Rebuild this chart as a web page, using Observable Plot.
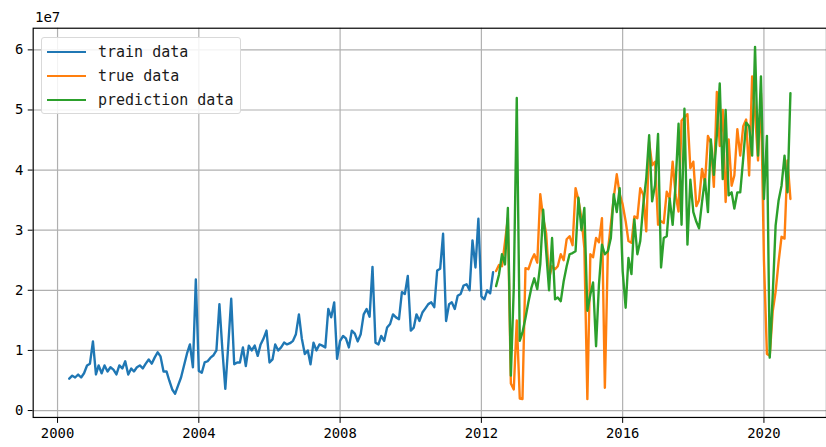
<!DOCTYPE html>
<html>
<head>
<meta charset="utf-8">
<script src="https://cdn.jsdelivr.net/npm/d3@7"></script>
<script src="https://cdn.jsdelivr.net/npm/@observablehq/plot@0.6"></script>
<style>
  html, body { margin: 0; padding: 0; background: #fff; overflow: hidden; }
  #wrap { position: relative; width: 826px; height: 447px; overflow: hidden; font-family: "DejaVu Sans Mono", monospace; color: #000; }
  #wrap svg { position: absolute; left: 0; top: 0; }
  #exp { position: absolute; left: 35px; top: 9px; font-size: 14px; }
  #legend { position: absolute; left: 41px; top: 37px; width: 200px; height: 77px; box-sizing: border-box;
            background: rgba(255,255,255,0.85); border: 1px solid #d9d9d9; border-radius: 3px; }
  .row { position: absolute; left: 0; height: 20px; display: flex; align-items: center; }
  .sw { position: absolute; left: 5px; width: 39px; height: 0; border-top: 2.5px solid; top: 9px; }
  .lab { position: absolute; left: 56px; top: 0; font-size: 15px; line-height: 20px; white-space: nowrap; color: #1a1a1a; }
</style>
</head>
<body>
<div id="wrap"></div>
<script>
// ---- data (values in units of 1e7) ----
const trainStart = [2000, 5];   // year, month of first train value
const testStart = [2012, 6];    // year, month of first test value
const seriesNames = ["train data", "true data", "prediction data"];
const seriesColors = ["#1f77b4", "#ff7f0e", "#2ca02c"];

const trainValues = [
  0.53,0.58,0.55,0.60,0.55,0.62,0.75,0.78,1.15,0.60,
  0.75,0.62,0.75,0.65,0.72,0.68,0.60,0.75,0.70,0.82,
  0.60,0.70,0.65,0.72,0.75,0.70,0.78,0.85,0.78,0.88,
  0.97,0.90,0.65,0.65,0.50,0.35,0.28,0.42,0.55,0.75,
  0.95,1.10,0.72,2.18,0.66,0.63,0.80,0.82,0.88,0.92,
  1.00,1.77,1.00,0.36,1.10,1.86,0.77,0.80,0.80,1.05,
  0.74,1.08,1.00,1.08,0.91,1.10,1.20,1.33,0.80,0.85,
  1.10,1.00,1.05,1.13,1.10,1.12,1.16,1.27,1.60,1.20,
  0.94,1.00,0.77,1.13,1.00,1.10,1.08,1.05,1.69,1.55,
  1.80,0.86,1.16,1.24,1.20,1.05,1.33,1.28,1.15,1.27,
  1.60,1.69,1.56,2.39,1.13,1.10,1.24,1.16,1.38,1.44,
  1.60,1.55,1.52,1.97,1.94,2.24,1.33,1.38,1.60,1.49,
  1.63,1.70,1.77,1.80,1.72,2.33,2.36,2.94,1.49,1.77,
  1.80,1.69,1.91,1.94,2.08,2.10,2.00,2.83,2.38,3.19,
  1.90,1.85,2.00,1.95,2.30
];

const trueValues = [
  2.32,2.42,2.40,2.80,3.20,0.45,0.35,1.50,0.20,0.19,
  2.37,2.35,2.50,2.60,2.46,3.60,3.20,2.95,2.20,2.40,
  2.35,2.40,2.60,2.50,2.85,2.90,2.75,3.70,3.50,3.20,
  2.70,0.19,2.60,2.55,2.87,2.80,3.20,0.38,2.65,3.10,
  3.54,3.93,3.60,3.43,3.15,2.82,2.79,3.23,3.20,3.70,
  3.59,2.98,4.47,4.08,4.14,3.09,3.15,3.12,3.64,3.53,
  4.14,3.59,3.31,4.82,4.88,4.93,4.03,4.14,3.40,3.50,
  4.02,3.78,4.57,4.45,3.72,5.30,4.40,5.00,3.47,4.51,
  3.74,3.91,4.68,4.24,4.73,4.84,3.91,5.56,4.95,4.16,
  5.28,2.50,0.94,0.91,1.65,1.98,2.48,2.89,2.86,4.16,
  3.52
];

const predValues = [
  2.07,2.26,2.60,2.43,3.37,0.58,2.04,5.20,1.16,1.30,
  1.54,1.80,2.04,2.20,2.02,2.43,3.34,2.65,2.00,2.87,
  1.85,1.88,1.82,2.15,2.40,2.60,2.62,2.65,3.54,3.00,
  3.37,1.66,1.93,2.13,1.07,2.10,2.76,2.60,2.65,2.87,
  3.60,3.30,3.70,2.32,1.71,2.54,2.27,3.18,2.60,2.82,
  3.42,3.86,4.58,3.48,3.75,4.60,2.38,2.87,2.90,3.53,
  3.09,3.75,4.77,3.09,5.02,2.76,3.84,3.30,3.14,3.03,
  3.47,3.85,3.30,4.51,3.92,4.58,5.44,3.85,5.00,3.58,
  3.63,3.36,3.63,3.63,4.20,4.79,4.73,4.24,6.05,4.24,
  5.56,3.52,4.57,0.88,1.93,3.08,3.50,3.74,4.24,3.63,
  5.28
];

const xTickYears = [2000, 2004, 2008, 2012, 2016, 2020];
const yTicks = [0, 1, 2, 3, 4, 5, 6];
const yDomain = [-0.115, 6.36];

// ---- build tables ----
const mdate = (start, i) => new Date(Date.UTC(start[0], start[1] - 1 + i, 1));
const trainData = trainValues.map((v, i) => ({date: mdate(trainStart, i), value: v}));
const trueData = trueValues.map((v, i) => ({date: mdate(testStart, i), value: v}));
const predData = predValues.map((v, i) => ({date: mdate(testStart, i), value: v}));
const xTicks = xTickYears.map(y => new Date(Date.UTC(y, 0, 1)));

const t0 = trainData[0].date.getTime();
const t1 = trueData[trueData.length - 1].date.getTime();
const pad = (t1 - t0) * 0.05;
const xDomain = [new Date(t0 - pad), new Date(t1 + pad)];

const gridStyle = {stroke: "#b0b0b0", strokeWidth: 1.2};

const chart = Plot.plot({
  width: 834,
  height: 447,
  marginLeft: 33,
  marginRight: 0,
  marginTop: 28,
  marginBottom: 26,
  style: {fontFamily: "'DejaVu Sans Mono', monospace", fontSize: "14px", color: "#000", background: "transparent"},
  x: {type: "utc", domain: xDomain, ticks: xTicks, tickFormat: d => String(d.getUTCFullYear()), tickSize: 6, tickPadding: 5, label: null},
  y: {domain: yDomain, ticks: yTicks, tickFormat: d => String(d), tickSize: 5, tickPadding: 5, label: null},
  marks: [
    Plot.ruleX(xTicks, gridStyle),
    Plot.ruleY(yTicks, gridStyle),
    Plot.line(trainData, {x: "date", y: "value", stroke: seriesColors[0], strokeWidth: 2.4}),
    Plot.line(trueData, {x: "date", y: "value", stroke: seriesColors[1], strokeWidth: 2.4}),
    Plot.line(predData, {x: "date", y: "value", stroke: seriesColors[2], strokeWidth: 2.4}),
    Plot.frame({stroke: "#000", strokeWidth: 1.2})
  ]
});

const wrap = document.getElementById("wrap");
wrap.appendChild(chart);

const exp = document.createElement("div");
exp.id = "exp";
exp.textContent = "1e7";
wrap.appendChild(exp);

const legend = document.createElement("div");
legend.id = "legend";
seriesNames.forEach((name, k) => {
  const row = document.createElement("div");
  row.className = "row";
  row.style.top = (4 + k * 24) + "px";
  const sw = document.createElement("div");
  sw.className = "sw";
  sw.style.borderTopColor = seriesColors[k];
  const lab = document.createElement("div");
  lab.className = "lab";
  lab.textContent = name;
  row.appendChild(sw);
  row.appendChild(lab);
  legend.appendChild(row);
});
wrap.appendChild(legend);
</script>
</body>
</html>
